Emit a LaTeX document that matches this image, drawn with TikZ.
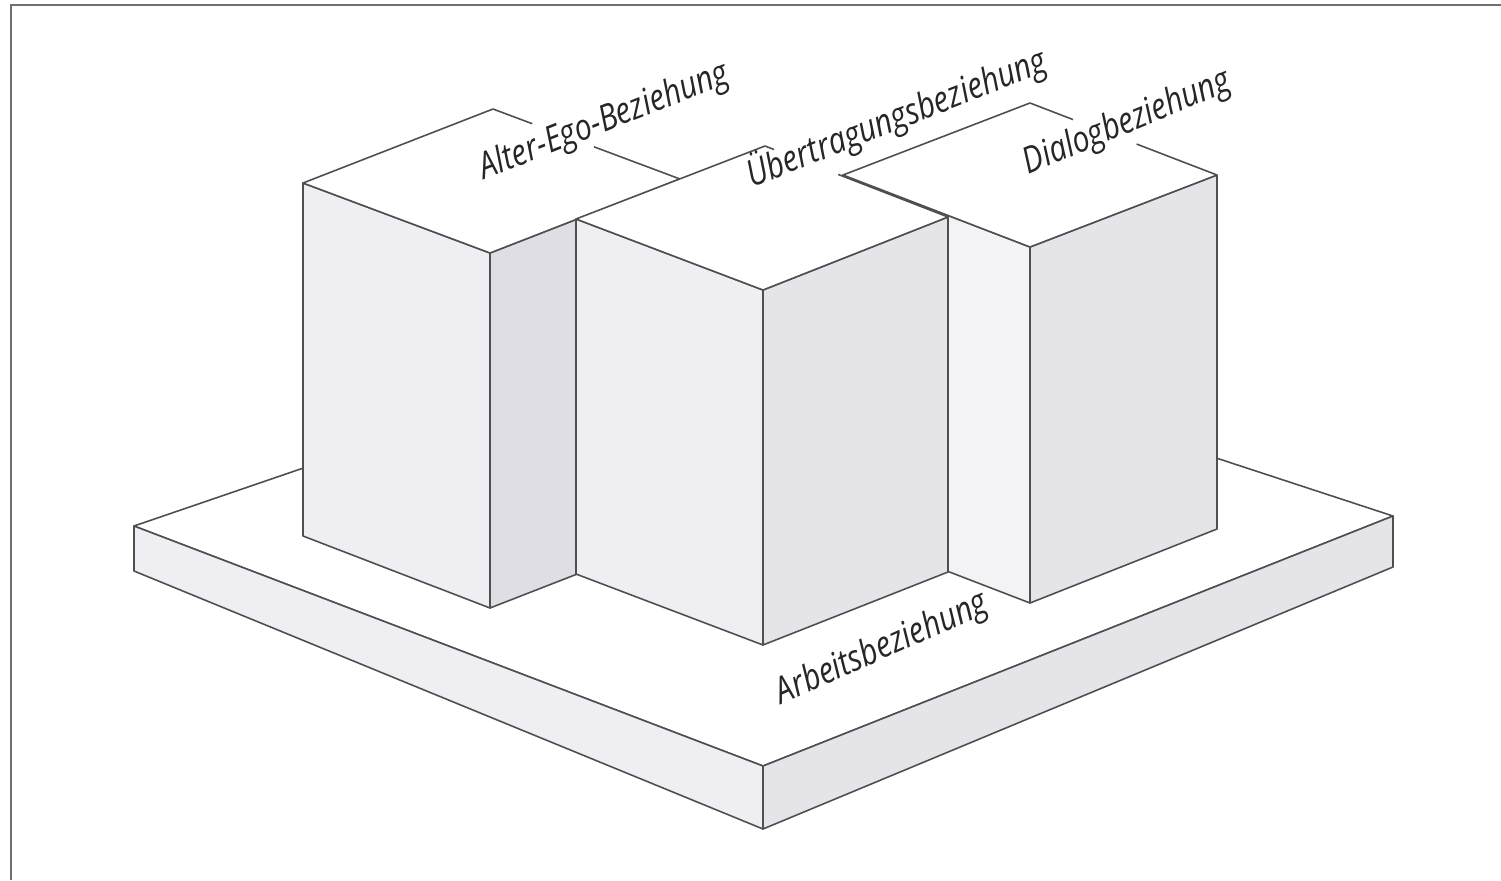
\documentclass[tikz,border=0pt]{standalone}
\usepackage{fontspec}
\usepackage{tikz}
\usetikzlibrary{calc}
\newfontfamily\labelfont[FakeStretch=0.83]{Open Sans}
\definecolor{edgegray}{HTML}{4F4F52}
\definecolor{framegray}{HTML}{707070}
\definecolor{sidelight}{HTML}{EFEEF2}
\definecolor{sidedark}{HTML}{E5E4E9}
\definecolor{sideshade}{HTML}{DFDEE4}
\definecolor{sidepale}{HTML}{F3F3F5}
\tikzset{
  edge/.style={draw=edgegray,line width=0.9pt,line join=round},
  topface/.style={edge,fill=white},
  leftface/.style={edge,fill=sidelight},
  rightface/.style={edge,fill=sidedark},
  frame/.style={draw=framegray,line width=1.7pt},
  relation/.style={font=\labelfont\itshape\fontsize{20.7}{24}\selectfont,
    text=black!85,anchor=base,inner sep=0pt}
}
\begin{document}
\begin{tikzpicture}[x=0.02cm,y=-0.02cm]
  \useasboundingbox (0,0) rectangle (1501,880);
  \draw[frame] (11,880) -- (11,5) -- (1501,5);
  % base plate
  \coordinate (pl) at (134,526);  \coordinate (pb) at (765,310);
  \coordinate (pr) at (1393,516); \coordinate (pf) at (763,766);
  \coordinate (plb) at (134,571); \coordinate (prb) at (1393,567);
  \coordinate (pfb) at (763,829);
  \path[topface] (pl) -- (pb) -- (pr) -- (pf) -- cycle;
  \path[leftface] (pl) -- (pf) -- (pfb) -- (plb) -- cycle;
  \path[rightface] (pf) -- (pr) -- (prb) -- (pfb) -- cycle;
  % box 1
  \coordinate (al) at (303,183); \coordinate (ab) at (493,109);
  \coordinate (ar) at (680,179); \coordinate (af) at (490,253);
  \path[leftface] (al) -- (af) -- (490,608) -- (303,536) -- cycle;
  \path[rightface,fill=sideshade] (af) -- (ar) -- (680,534) -- (490,608) -- cycle;
  \path[fill=white] (al) -- (ab) -- (ar) -- (af) -- cycle;
  \draw[edge] (ar) -- (af) -- (al) -- (ab) -- ($(ab)!0.21!(ar)$);
  \draw[edge] ($(ab)!0.54!(ar)$) -- (ar);
  % box 3
  \coordinate (dl) at (843,175); \coordinate (db) at (1030,103);
  \coordinate (dr) at (1217,175); \coordinate (df) at (1030,247);
  \path[leftface,fill=sidepale] (dl) -- (df) -- (1030,603) -- (843,531) -- cycle;
  \path[rightface] (df) -- (dr) -- (1217,529) -- (1030,603) -- cycle;
  \path[fill=white] (dl) -- (db) -- (dr) -- (df) -- cycle;
  \draw[edge] (dr) -- (df) -- (dl) -- (db) -- ($(db)!0.23!(dr)$);
  \draw[edge] ($(db)!0.57!(dr)$) -- (dr);
  % box 2
  \coordinate (ul) at (576,219); \coordinate (ub) at (765,146);
  \coordinate (ur) at (948,217); \coordinate (uf) at (763,290);
  \path[leftface] (ul) -- (uf) -- (763,645) -- (576,574) -- cycle;
  \path[rightface] (uf) -- (ur) -- (948,572) -- (763,645) -- cycle;
  \path[fill=white] (ul) -- (ub) -- (ur) -- (uf) -- cycle;
  \draw[edge] (ur) -- (uf) -- (ul) -- (ub) -- ($(ub)!0.05!(ur)$);
  \draw[edge] ($(ub)!0.40!(ur)$) -- (ur);
  % labels
  \node[relation,rotate=21.5] (alterego) at (608,131) {Alter-Ego-Beziehung};
  \node[relation,rotate=21.5] (uebertragung) at (901,129) {Übertragungsbeziehung};
  \node[relation,rotate=22.5] (dialog) at (1131,132) {Dialogbeziehung};
  \node[relation,rotate=24] (arbeit) at (886,658) {Arbeitsbeziehung};
\end{tikzpicture}
\end{document}
